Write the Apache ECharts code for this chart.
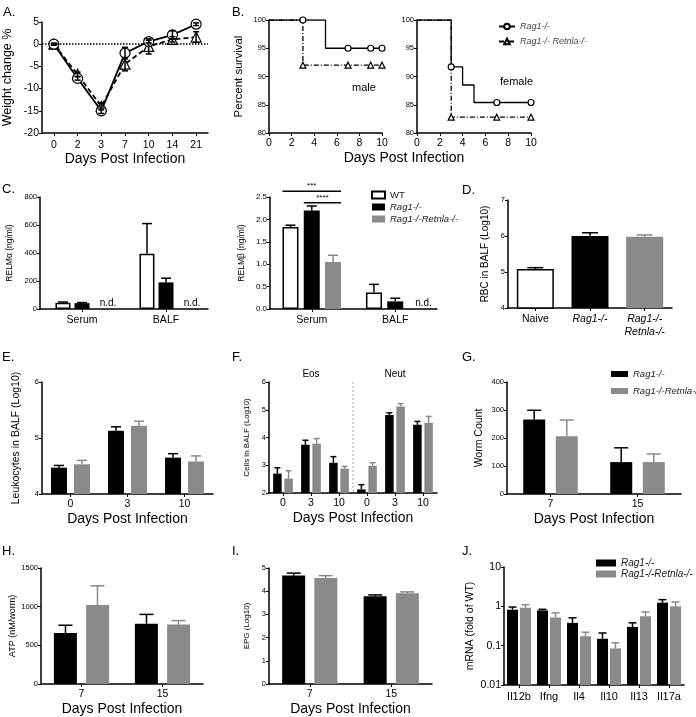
<!DOCTYPE html>
<html><head><meta charset="utf-8">
<script src="https://cdn.jsdelivr.net/npm/echarts@6/dist/echarts.min.js"></script>
<style>html,body{margin:0;padding:0;background:#fff}#c{width:696px;height:717px}</style>
</head><body><div id="c"></div>
<script>
// ---------------- DATA ----------------
// A. weight change
const daysA = ['0','2','3','7','10','14','21'];
const weightRag1 = [0,-7.7,-15,-2,0.6,2.1,4.5];
const weightRag1Sem = [0.2,0.4,0.6,1.3,0.3,0.9,0.3];
const weightRetnla = [0,-6.8,-14,-4.5,-0.5,1.1,1.6];
const weightRetnlaSem = [0.2,0.5,0.8,1.5,1.7,0.6,1.2];
// B. survival [day, percent], censor marks
const maleRag1 = [[0,100],[3,100],[5,95],[7,95],[9,95],[10,95]];
const maleRag1Marks = [3,7,9,10];
const maleRetnla = [[0,100],[3,92],[7,92],[9,92],[10,92]];
const maleRetnlaMarks = [3,7,9,10];
const femaleRag1 = [[0,100],[3,91.7],[4,88.5],[5,85.4],[7,85.4],[10,85.4]];
const femaleRag1Marks = [3,7,10];
const femaleRetnla = [[0,100],[3,82.8],[7,82.8],[10,82.8]];
const femaleRetnlaMarks = [3,7,10];
// C. RELM alpha / beta
const sampleC = ['Serum','BALF'];
const relmaWT = [45,395], relmaWTSem = [5,215];
const relmaRag1 = [42,190], relmaRag1Sem = [4,30];
const relmaDKO = [0,0]; // n.d.
const relmbWT = [1.83,0.37], relmbWTSem = [0.04,0.18];
const relmbRag1 = [2.2,0.17], relmbRag1Sem = [0.1,0.07];
const relmbDKO = [1.05,0], relmbDKOSem = [0.15,0]; // BALF n.d.
const sigFrom = [0,1], sigTo = [2,2], sigLevel = [2.63,2.37], sigText = ['***','****'];
// D. RBC
const groupsD = ['Naive','Rag1-/-','Rag1-/-\nRetnla-/-'];
const rbc = [5.08,6.0,5.98], rbcSem = [0.04,0.09,0.05];
// E. Leukocytes
const daysE = ['0','3','10'];
const leukRag1 = [4.47,5.13,4.65], leukRag1Sem = [0.04,0.07,0.07];
const leukDKO = [4.53,5.22,4.58], leukDKOSem = [0.07,0.08,0.1];
// F. Eos / Neut
const cellGroups = ['Eos','Neut'];
const daysF = ['0','3','10','0','3','10'];
const cellsRag1 = [2.70,3.74,3.09,2.13,4.81,4.46], cellsRag1Sem = [0.21,0.16,0.22,0.17,0.08,0.12];
const cellsDKO = [2.52,3.78,2.88,2.98,5.12,4.53], cellsDKOSem = [0.28,0.18,0.08,0.11,0.1,0.23];
const fDivider = [2];
// G. worm count
const daysG = ['7','15'];
const wormRag1 = [266,114], wormRag1Sem = [33,51];
const wormDKO = [206,114], wormDKOSem = [58,29];
// H. ATP
const atpRag1 = [660,780], atpRag1Sem = [100,120];
const atpDKO = [1020,770], atpDKOSem = [250,50];
// I. EPG
const epgRag1 = [4.68,3.78], epgRag1Sem = [0.1,0.06];
const epgDKO = [4.57,3.91], epgDKOSem = [0.1,0.06];
// J. mRNA
const genes = ['Il12b','Ifng','Il4','Il10','Il13','Il17a'];
const mrnaRag1 = [0.82,0.79,0.38,0.15,0.30,1.24], mrnaRag1Up = [0.96,0.84,0.51,0.21,0.38,1.48];
const mrnaDKO = [0.92,0.52,0.174,0.085,0.56,1.0], mrnaDKOUp = [1.1,0.68,0.22,0.118,0.72,1.29];

// ---------------- STYLE ----------------
const FONT = '"Liberation Sans", Arial, Helvetica, sans-serif';
const BLACK = '#000', GRAY = '#8a8a8a', WHITE = '#fff';
const grids = [
  {left:42, top:22, width:166, height:111},  //0 A
  {left:269, top:20, width:113, height:113}, //1 B male
  {left:417, top:20, width:114, height:113}, //2 B female
  {left:40, top:197, width:168, height:112}, //3 C left
  {left:270, top:197, width:167, height:112},//4 C right
  {left:508, top:200, width:164, height:108},//5 D
  {left:42, top:382, width:171, height:112}, //6 E
  {left:269, top:382, width:168, height:111},//7 F
  {left:507, top:382, width:174, height:112},//8 G
  {left:41, top:568, width:162, height:116}, //9 H
  {left:269, top:568, width:163, height:116},//10 I
  {left:504, top:567, width:180, height:118} //11 J
];
const plainNum = function(v){ return String(v); };

function axLine(){ return {show:true, lineStyle:{color:BLACK, width:1.5}}; }
function catX(g, data, fs, margin, extra){
  return Object.assign({type:'category', gridIndex:g, data:data, boundaryGap:true,
    axisLine:axLine(), axisTick:{show:true, alignWithLabel:true, length:3, lineStyle:{color:BLACK, width:1}},
    axisLabel:{color:BLACK, fontSize:fs, fontFamily:FONT, margin:margin, interval:0},
    splitLine:{show:false}}, extra||{});
}
function valY(g, min, max, interval, fs, name, nfs, ngap, extra){
  return Object.assign({type:'value', gridIndex:g, min:min, max:max, interval:interval,
    axisLine:axLine(), axisTick:{show:true, length:3, lineStyle:{color:BLACK, width:1}},
    axisLabel:{color:BLACK, fontSize:fs, fontFamily:FONT, margin:3, formatter:plainNum},
    splitLine:{show:false}, name:name, nameLocation:'middle', nameGap:ngap,
    nameTextStyle:{color:BLACK, fontSize:nfs, fontFamily:FONT}}, extra||{});
}
function daysName(gap){ return {name:'Days Post Infection', nameLocation:'middle', nameGap:gap,
  nameTextStyle:{color:BLACK, fontSize:14, fontFamily:FONT}}; }

function errSeries(g, means, sems, offset, color, cap, both, upper){
  const data = [];
  means.forEach(function(m,i){ if(m!=null && (upper ? upper[i]!=null : sems[i]>0)) data.push([i, m, upper ? upper[i] : m + sems[i], both ? m - sems[i] : m]); });
  return {type:'custom', xAxisIndex:g, yAxisIndex:g, clip:false, silent:true, z:5, data:data,
    renderItem:function(params, api){
      const x = api.value(0);
      const c = api.coord([x, api.value(1)]);
      const t = api.coord([x, api.value(2)]);
      const b = api.coord([x, api.value(3)]);
      const cx = c[0] + offset;
      const col = Array.isArray(color) ? color[x] : color;
      const st = {stroke:col, lineWidth:1.5};
      const ch = [
        {type:'line', shape:{x1:cx, y1:b[1], x2:cx, y2:t[1]}, style:st},
        {type:'line', shape:{x1:cx-cap, y1:t[1], x2:cx+cap, y2:t[1]}, style:st}
      ];
      if (both) ch.push({type:'line', shape:{x1:cx-cap, y1:b[1], x2:cx+cap, y2:b[1]}, style:st});
      return {type:'group', children:ch};
    }};
}
function bar(g, name, data, color, w, gap, extra){
  return Object.assign({type:'bar', name:name, xAxisIndex:g, yAxisIndex:g, data:data, barWidth:w, barGap:gap,
    silent:true, itemStyle:{color:color, borderColor: color===WHITE ? BLACK : color, borderWidth: color===WHITE ? 1.5 : 0}}, extra||{});
}
function stepSeries(g, name, pts, marks, sym, dashed){
  return {type:'line', name:name, xAxisIndex:g, yAxisIndex:g, step:'end', silent:true,
    symbol:sym, symbolSize:6, showAllSymbol:true,
    itemStyle:{color:WHITE, borderColor:BLACK, borderWidth:1.2},
    lineStyle:{color:BLACK, width:1.3, type: dashed ? [5,2,1,2] : 'solid'},
    data: pts.map(function(p){ return marks.indexOf(p[0])>=0 ? {value:p} : {value:p, symbol:'none'}; })};
}

const series = [];
// B first (legend icons)
series.push(stepSeries(1,'Rag1-/-\u200b', maleRag1, maleRag1Marks, 'circle', false));
series.push(stepSeries(1,'Rag1-/- Retnla-/-', maleRetnla, maleRetnlaMarks, 'triangle', true));
series.push(stepSeries(2,'Rag1-/-\u200b', femaleRag1, femaleRag1Marks, 'circle', false));
series.push(stepSeries(2,'Rag1-/- Retnla-/-', femaleRetnla, femaleRetnlaMarks, 'triangle', true));
// A
series.push({type:'line', name:'A Rag1', xAxisIndex:0, yAxisIndex:0, data:weightRag1, symbol:'circle', symbolSize:10,
  itemStyle:{color:WHITE, borderColor:BLACK, borderWidth:1.2}, lineStyle:{color:BLACK, width:1.8}, z:4, silent:true,
  markLine:{silent:true, symbol:'none', label:{show:false}, lineStyle:{type:'dotted', color:BLACK, width:1.5}, data:[{yAxis:0}]}});
series.push({type:'line', name:'A Retnla', xAxisIndex:0, yAxisIndex:0, data:weightRetnla, symbol:'triangle', symbolSize:10,
  itemStyle:{color:WHITE, borderColor:BLACK, borderWidth:1.2}, lineStyle:{color:BLACK, width:1.8, type:[5,3]}, z:3, silent:true});
series.push(errSeries(0, weightRag1, weightRag1Sem, 0, BLACK, 3, true));
series.push(errSeries(0, weightRetnla, weightRetnlaSem, 0, BLACK, 3, true));
// C left
series.push(bar(3,'WT', relmaWT, WHITE, 15, '27%'));
series.push(bar(3,'Rag1-/-', relmaRag1, BLACK, 15, '27%'));
series.push(bar(3,'Rag1-/-Retnla-/-', relmaDKO.map(function(v){return {value:v, label:{show:true, formatter:'n.d.', position:'top', distance:1, offset:[7,0], color:BLACK, fontSize:10, fontFamily:FONT}};}), GRAY, 15, '27%'));
series.push(errSeries(3, relmaWT, relmaWTSem, -19, BLACK, 5, false));
series.push(errSeries(3, relmaRag1, relmaRag1Sem, 0, BLACK, 5, false));
// C right
series.push(bar(4,'WT', relmbWT, WHITE, 16, '33%'));
series.push(bar(4,'Rag1-/-', relmbRag1, BLACK, 16, '33%'));
series.push(bar(4,'Rag1-/-Retnla-/-', relmbDKO.map(function(v){return v>0 ? v : {value:0, label:{show:true, formatter:'n.d.', position:'top', distance:1, offset:[7,0], color:BLACK, fontSize:10, fontFamily:FONT}};}), GRAY, 16, '33%'));
series.push(errSeries(4, relmbWT, relmbWTSem, -21.3, BLACK, 5, false));
series.push(errSeries(4, relmbRag1, relmbRag1Sem, 0, BLACK, 5, false));
series.push(errSeries(4, relmbDKO, relmbDKOSem, 21.3, GRAY, 5, false));
series.push({type:'custom', xAxisIndex:4, yAxisIndex:4, clip:false, silent:true,
  data: sigLevel.map(function(v,i){ return [sigFrom[i], sigTo[i], v, i]; }),
  renderItem:function(params, api){
    const step = 21.3, half = 8;
    const c = api.coord([0, api.value(2)]);
    const x1 = c[0] + (api.value(0)-1)*step - half, x2 = c[0] + (api.value(1)-1)*step + half;
    return {type:'group', children:[
      {type:'line', shape:{x1:x1, y1:c[1], x2:x2, y2:c[1]}, style:{stroke:BLACK, lineWidth:1.5}},
      {type:'text', style:{text:sigText[api.value(3)], x:(x1+x2)/2, y:c[1]-1, align:'center', verticalAlign:'bottom', fontSize:8, fontFamily:FONT, fill:BLACK}}
    ]};
  }});
// D
const dColors = [WHITE, BLACK, GRAY];
series.push({type:'bar', name:'RBC', xAxisIndex:5, yAxisIndex:5, barWidth:37, silent:true,
  data: rbc.map(function(v,i){ return {value:v, itemStyle:{color:dColors[i], borderColor: i===0?BLACK:dColors[i], borderWidth: i===0?1.5:0}}; })});
series.push(errSeries(5, rbc, rbcSem, 0, [BLACK, BLACK, GRAY], 8, false));
// E
series.push(bar(6,'Rag1-/-', leukRag1, BLACK, 16, '44%'));
series.push(bar(6,'Rag1-/-Retnla-/-', leukDKO, GRAY, 16, '44%'));
series.push(errSeries(6, leukRag1, leukRag1Sem, -11.5, BLACK, 5, false));
series.push(errSeries(6, leukDKO, leukDKOSem, 11.5, GRAY, 5, false));
// F
series.push(bar(7,'Rag1-/-', cellsRag1, BLACK, 8.5, '32%'));
series.push(bar(7,'Rag1-/-Retnla-/-', cellsDKO, GRAY, 8.5, '32%'));
series.push(errSeries(7, cellsRag1, cellsRag1Sem, -5.6, BLACK, 3, false));
series.push(errSeries(7, cellsDKO, cellsDKOSem, 5.6, GRAY, 3, false));
series.push({type:'custom', xAxisIndex:7, yAxisIndex:7, clip:false, silent:true, data:fDivider.map(function(d){return [d];}),
  renderItem:function(params, api){
    const a = api.coord([api.value(0), 6]), b = api.coord([api.value(0)+1, 2]);
    const x = (a[0]+b[0])/2;
    return {type:'line', shape:{x1:x, y1:a[1], x2:x, y2:b[1]}, style:{stroke:'#aaa', lineWidth:1, lineDash:[2,2]}};
  }});
// G
series.push(bar(8,'Rag1-/-', wormRag1, BLACK, 22, '48%'));
series.push(bar(8,'Rag1-/-Retnla-/-', wormDKO, GRAY, 22, '48%'));
series.push(errSeries(8, wormRag1, wormRag1Sem, -16.3, BLACK, 7, false));
series.push(errSeries(8, wormDKO, wormDKOSem, 16.3, GRAY, 7, false));
// H
series.push(bar(9,'Rag1-/-', atpRag1, BLACK, 23, '40%'));
series.push(bar(9,'Rag1-/-Retnla-/-', atpDKO, GRAY, 23, '40%'));
series.push(errSeries(9, atpRag1, atpRag1Sem, -16, BLACK, 7, false));
series.push(errSeries(9, atpDKO, atpDKOSem, 16, GRAY, 7, false));
// I
series.push(bar(10,'Rag1-/-', epgRag1, BLACK, 23, '40%'));
series.push(bar(10,'Rag1-/-Retnla-/-', epgDKO, GRAY, 23, '40%'));
series.push(errSeries(10, epgRag1, epgRag1Sem, -16, BLACK, 7, false));
series.push(errSeries(10, epgDKO, epgDKOSem, 16, GRAY, 7, false));
// J
series.push(bar(11,'Rag1-/-', mrnaRag1, BLACK, 11, '18%'));
series.push(bar(11,'Rag1-/-Retnla-/-', mrnaDKO, GRAY, 11, '18%'));
series.push(errSeries(11, mrnaRag1, null, -6.5, BLACK, 4, false, mrnaRag1Up));
series.push(errSeries(11, mrnaDKO, null, 6.5, GRAY, 4, false, mrnaDKOUp));

const xAxes = [
  Object.assign(catX(0, daysA, 10.5, 7), {axisLine:{show:true, onZero:false, lineStyle:{color:BLACK, width:1.5}}}, daysName(18)),
  {type:'value', gridIndex:1, min:0, max:10, interval:2, axisLine:axLine(), axisTick:{length:3, lineStyle:{color:BLACK}}, axisLabel:{color:BLACK, fontSize:10.5, fontFamily:FONT, margin:5}, splitLine:{show:false}},
  {type:'value', gridIndex:2, min:0, max:10, interval:2, axisLine:axLine(), axisTick:{length:3, lineStyle:{color:BLACK}}, axisLabel:{color:BLACK, fontSize:10.5, fontFamily:FONT, margin:5}, splitLine:{show:false}},
  catX(3, sampleC, 10.5, 6),
  catX(4, sampleC, 10.5, 6),
  catX(5, groupsD, 10.5, 5, {axisLabel:{color:BLACK, fontSize:10.5, fontFamily:FONT, margin:5, interval:0, lineHeight:13,
    formatter:function(v){ return v==='Naive' ? v : v.split('\n').map(function(s){return '{i|'+s+'}';}).join('\n'); },
    rich:{i:{fontStyle:'italic', fontSize:10.5, fontFamily:FONT, color:BLACK, lineHeight:13}}}}),
  Object.assign(catX(6, daysE, 10.5, 5), daysName(18)),
  Object.assign(catX(7, daysF, 10.5, 5), daysName(18)),
  Object.assign(catX(8, daysG, 10.5, 5), daysName(18)),
  Object.assign(catX(9, daysG, 10.5, 5), daysName(18)),
  Object.assign(catX(10, daysG, 10.5, 5), daysName(18)),
  catX(11, genes, 11, 6),
  {type:'category', gridIndex:7, position:'top', data:cellGroups, axisLine:{show:false}, axisTick:{show:false},
    axisLabel:{color:BLACK, fontSize:10, fontFamily:FONT, margin:3}, splitLine:{show:false}}
];
const yAxes = [
  valY(0, -20, 5, 5, 10.5, 'Weight change %', 12.5, 28),
  valY(1, 80, 100, 5, 7.5, 'Percent survival', 11.5, 24),
  valY(2, 80, 100, 5, 7.5, '', 10, 20),
  valY(3, 0, 800, 200, 7.5, 'RELMα (ng/ml)', 8.5, 26),
  valY(4, 0, 2.5, 0.5, 8, 'RELMβ (ng/ml)', 8.5, 24, {axisLabel:{color:BLACK, fontSize:8, fontFamily:FONT, margin:3, formatter:function(v){return v.toFixed(1);}}}),
  valY(5, 4, 7, 1, 7.5, 'RBC in BALF (Log10)', 10, 18),
  valY(6, 4, 6, 1, 7.5, 'Leukocytes in BALF (Log10)', 10.5, 20),
  valY(7, 2, 6, 1, 7.5, 'Cells in BALF (Log10)', 8, 18),
  valY(8, 0, 400, 100, 7.5, 'Worm Count', 10.5, 22),
  valY(9, 0, 1500, 500, 7.5, 'ATP (nM/worm)', 9, 24),
  valY(10, 0, 5, 1, 7.5, 'EPG (Log10)', 8, 18),
  Object.assign(valY(11, 0.01, 10, null, 10.5, 'mRNA (fold of WT)', 10.5, 28), {type:'log', logBase:10, startValue:0.01, interval:undefined,
    axisLabel:{color:BLACK, fontSize:10.5, fontFamily:FONT, margin:3, formatter:function(v){ return String(+v.toPrecision(2)); }}})
];

const legendIt = {fontStyle:'italic', fontSize:9.5, color:'#222', fontFamily:FONT};
const legends = [
  {left:493, top:17, orient:'vertical', itemGap:6, itemWidth:16, itemHeight:7, selectedMode:false,
    data:['Rag1-/-\u200b','Rag1-/- Retnla-/-'], textStyle:Object.assign({}, legendIt, {fontSize:9, color:'#444'})},
  {left:366, top:185, orient:'vertical', itemGap:2, itemWidth:13, itemHeight:7, icon:'rect', selectedMode:false,
    data:['WT','Rag1-/-','Rag1-/-Retnla-/-'],
    formatter:function(n){ return n==='WT' ? '{n|WT}' : '{i|'+n+'}'; },
    textStyle:{fontSize:9.5, color:'#222', fontFamily:FONT, rich:{n:{fontSize:9.5, fontFamily:FONT, color:'#222'}, i:{fontSize:9.5, fontStyle:'italic', fontFamily:FONT, color:'#222'}}}},
  {left:606, top:364, orient:'vertical', itemGap:7, itemWidth:17, itemHeight:6, icon:'rect', selectedMode:false,
    data:['Rag1-/-','Rag1-/-Retnla-/-'], textStyle:legendIt},
  {left:591, top:553, orient:'vertical', itemGap:1, itemWidth:20, itemHeight:7, icon:'rect', selectedMode:false,
    data:['Rag1-/-','Rag1-/-Retnla-/-'], textStyle:Object.assign({}, legendIt, {fontSize:10})}
];

function txt(x, y, s, fs, extra){ return {type:'text', x:x, y:y, silent:true, style:Object.assign({text:s, fontSize:fs, fontFamily:FONT, fill:BLACK, verticalAlign:'middle'}, extra||{})}; }
const graphics = [
  txt(3,12,'A.',13), txt(232,12,'B.',13), txt(2,189,'C.',13), txt(462,190,'D.',13),
  txt(2,357,'E.',13), txt(232,357,'F.',13), txt(462,357,'G.',13),
  txt(2,551,'H.',13), txt(232,551,'I.',13), txt(462,551,'J.',13),
  txt(352,88,'male',11), txt(500,82,'female',11),
  txt(404,158,'Days Post Infection',14,{align:'center'})
];

const chart = echarts.init(document.getElementById('c'), null, {renderer:'canvas'});
chart.setOption({
  animation:false, backgroundColor:'#fff',
  textStyle:{fontFamily:FONT},
  grid: grids.map(function(g){ return Object.assign({containLabel:false}, g); }),
  xAxis: xAxes, yAxis: yAxes, series: series, legend: legends, graphic: graphics
});
</script></body></html>
